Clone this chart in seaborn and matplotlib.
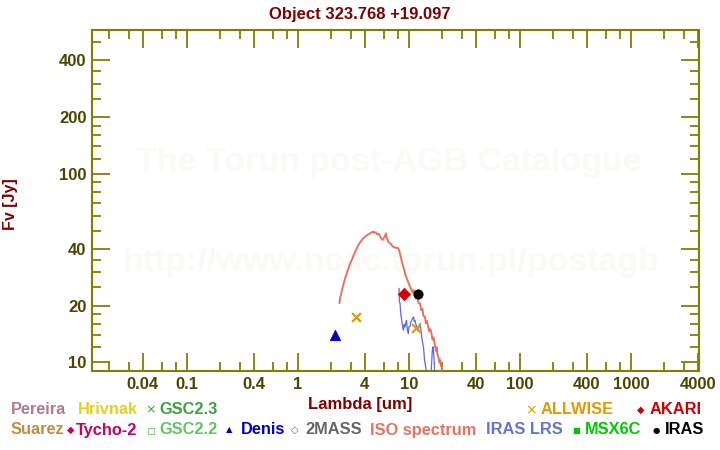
import numpy as np
import pandas as pd
import matplotlib
matplotlib.use("Agg")
import matplotlib.pyplot as plt
from matplotlib.ticker import FixedLocator, NullFormatter, FixedFormatter
import seaborn as sns

# ---------------- data ----------------
iso_wave = [2.36, 2.40, 2.47, 2.55, 2.65, 2.75, 2.85, 2.95, 3.05, 3.20, 3.38, 3.55,
            3.70, 3.88, 4.05, 4.25, 4.45, 4.60, 4.77, 4.90, 5.05, 5.20, 5.35, 5.50,
            5.65, 5.79, 5.95, 6.10, 6.20, 6.30, 6.51, 6.70, 6.90, 7.05, 7.22, 7.45,
            7.70, 8.01, 8.15, 8.30, 8.50, 8.70, 8.89, 9.10, 9.30, 9.53, 9.80, 10.2,
            10.5, 10.8, 11.0, 11.3, 11.6, 11.9, 12.2, 12.6, 12.9, 13.2, 13.5, 13.9,
            14.2, 14.5, 14.9, 15.2, 15.6, 16.0, 16.3, 16.6, 17.1, 17.5, 17.8, 18.1,
            18.4, 18.8, 19.1, 19.4, 19.7, 20.2, 21.0]
iso_flux = [20.6, 22.0, 23.7, 25.5, 27.8, 29.7, 31.5, 33.4, 34.9, 37.5, 40.3, 42.5,
            44.0, 45.5, 46.5, 47.5, 48.3, 48.9, 49.3, 48.6, 49.0, 47.6, 48.1, 46.5,
            45.3, 44.6, 45.8, 47.2, 48.3, 46.0, 43.6, 43.0, 42.3, 41.5, 41.0, 40.6,
            40.5, 40.3, 39.2, 37.8, 35.5, 33.5, 32.1, 30.5, 29.0, 27.9, 26.8, 25.2,
            24.4, 23.4, 24.2, 22.7, 21.8, 22.4, 20.6, 20.5, 18.9, 19.3, 17.6, 17.5,
            16.1, 16.6, 15.5, 14.6, 15.0, 14.0, 13.2, 13.6, 12.4, 11.5, 12.0, 10.9,
            10.7, 10.0, 10.3, 9.6, 9.5, 8.8, 8.5]

lrs_wave = [8.13, 8.20, 8.30, 8.45, 8.60, 8.75, 8.90, 9.05, 9.20, 9.35, 9.50, 9.65,
            9.85, 10.0, 10.2, 10.4, 10.6, 10.8, 11.0, 11.15, 11.3, 11.5, 11.7, 11.9,
            12.1, 12.35, 12.6, 12.8, 13.0, 13.25, 13.5, 13.8, 14.3, 15.0, 15.8, 16.2,
            16.5, 16.8, 17.0]
lrs_flux = [24.7, 21.0, 20.5, 18.0, 16.7, 15.5, 14.8, 15.9, 15.4, 16.2, 16.7, 15.0,
            14.2, 15.5, 15.5, 16.4, 16.7, 17.2, 17.4, 16.5, 16.7, 16.0, 15.5, 15.2,
            14.8, 15.6, 16.1, 14.9, 13.7, 12.8, 12.1, 10.3, 9.1, 8.5, 8.7, 11.5,
            12.1, 10.5, 9.1]

denis_wave = [2.15]
denis_flux = [14.0]
allwise_wave = [3.35, 11.6]
allwise_flux = [17.3, 15.2]
akari_wave = [9.0]
akari_flux = [23.0]
iras_wave = [12.0]
iras_flux = [23.0]

x_major = [0.04, 0.1, 0.4, 1, 4, 10, 40, 100, 400, 1000, 4000]
x_labels = ["0.04", "0.1", "0.4", "1", "4", "10", "40", "100", "400", "1000", "4000"]
y_major = [10, 20, 40, 100, 200, 400]
y_labels = ["10", "20", "40", "100", "200", "400"]
y_minor = [12, 14, 16, 18, 25, 30, 35, 50, 60, 70, 80, 90, 120, 140, 160, 180,
           250, 300, 350, 500]

legend_row1 = [("Pereira", "#b47a8c"), ("Hrivnak", "#e8cf1c"), ("GSC2.3", "#3f9f3f"),
               ("ALLWISE", "#e09b00"), ("AKARI", "#d00000")]
legend_row2 = [("Suarez", "#c08c40"), ("Tycho-2", "#c8005f"), ("GSC2.2", "#62c462"),
               ("Denis", "#0000c8"), ("2MASS", "#666666"), ("ISO spectrum", "#e6735f"),
               ("IRAS LRS", "#6473dc"), ("MSX6C", "#00c800"), ("IRAS", "#000000")]

# ---------------- style ----------------
sns.set_theme(style="white")
plt.rcParams['font.family'] = ['Liberation Sans', 'DejaVu Sans']
OLIVE = "#808000"
TICKLBL = "#4a4500"
DARKRED = "#800000"

fig = plt.figure(figsize=(7.2, 4.5), dpi=100)
ax = fig.add_axes([92/720, 1-371/450, (699-92)/720, (371-29.7)/450])
ax.set_zorder(2)
ax.patch.set_alpha(0)

# watermark (behind the axes contents)
fig.text(389/720, 1-163/450, "The Torun post-AGB Catalogue", color="#fcfaf6",
         fontsize=24.5, fontweight="bold", ha="center", va="center", zorder=0)
fig.text(391/720, 1-263/450, "http://www.ncac.torun.pl/postagb", color="#fcfaf6",
         fontsize=24.5, fontweight="bold", ha="center", va="center", zorder=0)

iso_df = pd.DataFrame({"wave": iso_wave, "flux": iso_flux})
lrs_df = pd.DataFrame({"wave": lrs_wave, "flux": lrs_flux})
sns.lineplot(data=iso_df, x="wave", y="flux", ax=ax, sort=False, estimator=None,
             color="#e6735f", linewidth=1.4, zorder=3)
sns.lineplot(data=lrs_df, x="wave", y="flux", ax=ax, sort=False, estimator=None,
             color="#5a6ae0", linewidth=0.9, zorder=2)

sns.scatterplot(x=denis_wave, y=denis_flux, ax=ax, marker="^", s=55, color="#0000c8",
                edgecolor="#0000c8", zorder=5)
sns.scatterplot(x=allwise_wave, y=allwise_flux, ax=ax, marker="x", s=40, color="#e09b00",
                linewidth=1.6, zorder=5)
sns.scatterplot(x=akari_wave, y=akari_flux, ax=ax, marker="D", s=40, color="#d00000",
                edgecolor="#d00000", zorder=5)
sns.scatterplot(x=iras_wave, y=iras_flux, ax=ax, marker="o", s=45, color="#000000",
                edgecolor="#000000", zorder=6)

ax.set_xscale("log")
ax.set_yscale("log")
ax.set_xlim(0.01393, 4100)
ax.set_ylim(9.0, 581)

x_minor = []
for d in [0.01, 0.1, 1, 10, 100, 1000]:
    for m in [2, 3, 6, 8]:
        x_minor.append(d * m)
ax.xaxis.set_major_locator(FixedLocator(x_major))
ax.xaxis.set_major_formatter(FixedFormatter(x_labels))
ax.xaxis.set_minor_locator(FixedLocator(x_minor))
ax.xaxis.set_minor_formatter(NullFormatter())
ax.yaxis.set_major_locator(FixedLocator(y_major))
ax.yaxis.set_major_formatter(FixedFormatter(y_labels))
ax.yaxis.set_minor_locator(FixedLocator(y_minor))
ax.yaxis.set_minor_formatter(NullFormatter())

ax.tick_params(which="both", direction="in", top=True, right=True, bottom=True, left=True,
               color=OLIVE, width=1.3)
ax.tick_params(which="major", length=13, pad=4, labelsize=12, labelcolor=TICKLBL)
ax.tick_params(which="minor", length=6.5)
for lbl in ax.get_xticklabels() + ax.get_yticklabels():
    lbl.set_fontweight("bold")
for sp in ax.spines.values():
    sp.set_color(OLIVE)
    sp.set_linewidth(1.5)
ax.grid(False)
ax.set_xlabel("")
ax.set_ylabel("")

# titles & axis labels
fig.text(0.5, 1-15/450, "Object 323.768 +19.097", color=DARKRED, fontsize=12,
         fontweight="bold", ha="center", va="center")
fig.text(360.5/720, 1-405/450, "Lambda [um]", color=DARKRED, fontsize=12,
         fontweight="bold", ha="center", va="center")
fig.text(10/720, 1-204/450, "Fv [Jy]", color=DARKRED, fontsize=11.5,
         fontweight="bold", ha="center", va="center", rotation=90)

# legend-like texts
def lbl(x, y, s, c):
    fig.text(x/720, 1-y/450, s, color=c, fontsize=11.8, fontweight="bold",
             ha="left", va="center")

def glyph(x, y, s, c, fs=8):
    fig.text(x/720, 1-y/450, s, color=c, fontsize=fs, ha="center", va="center",
             family=["DejaVu Sans"])

r1, r2 = 410, 430
row1_x = [11, 77.7, 159, 541, 650]
row2_x = [11, 76, 159, 241, 305, 370, 486, 585, 665]
for (name, col), x in zip(legend_row1, row1_x):
    lbl(x, r1, name, col)
for (name, col), x in zip(legend_row2, row2_x):
    lbl(x, r2, name, col)

glyph(150.5, r1, "×", "#3f9f3f", 9)
glyph(530.5, r1, "×", "#e09b00", 10)
glyph(640.5, r1, "◆", "#d00000", 7)
glyph(70.3, r2, "◆", "#c8005f", 7)
glyph(151.5, r2, "▫", "#62c462", 10)
glyph(229.5, r2, "▲", "#0000c8", 6)
glyph(295, r2, "◇", "#666666", 7)
glyph(576, r2, "■", "#00c800", 6)
glyph(656, r2, "●", "#000000", 6)

fig.savefig("out.png", dpi=100, facecolor="white")
